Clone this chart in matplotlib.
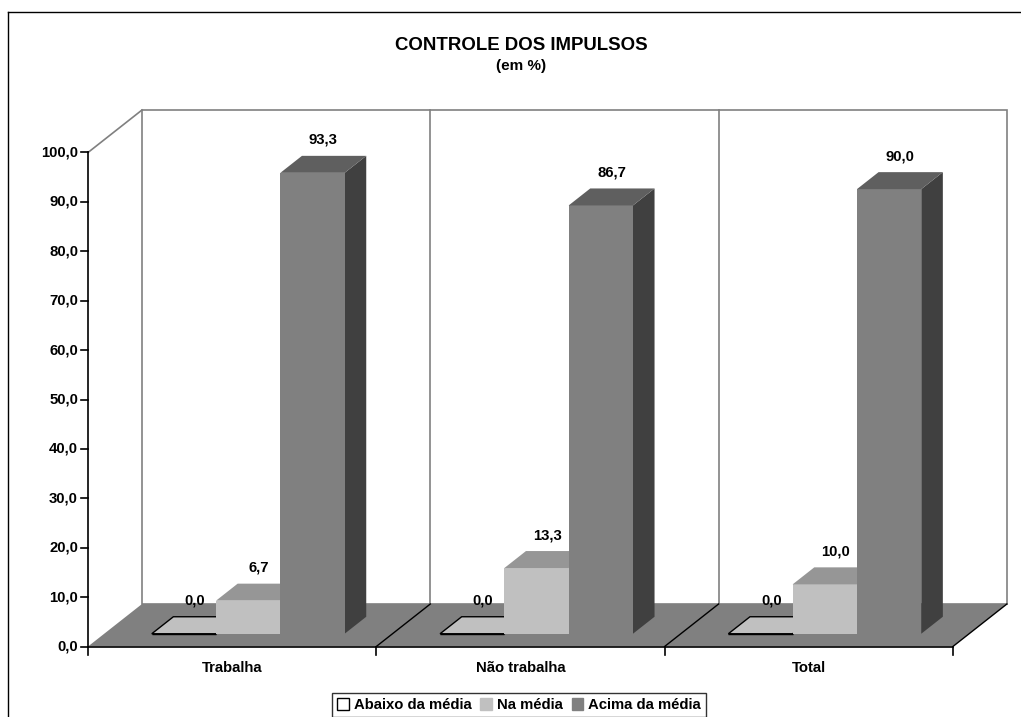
import matplotlib.pyplot as plt
from matplotlib.patches import Polygon, Patch

plt.rcParams['font.family'] = ['Liberation Sans', 'DejaVu Sans']
plt.rcParams['font.weight'] = 'bold'

categories = ['Trabalha', 'Não trabalha', 'Total']
series = ['Abaixo da média', 'Na média', 'Acima da média']
abaixo = [0.0, 0.0, 0.0]
na_media = [6.7, 13.3, 10.0]
acima = [93.3, 86.7, 90.0]
values = [abaixo, na_media, acima]
yticks = [0, 10, 20, 30, 40, 50, 60, 70, 80, 90, 100]

# colours: front, top, side
front_col = ['#ffffff', '#c0c0c0', '#808080']
top_col = ['#c0c0c0', '#969696', '#5f5f5f']
side_col = ['#a0a0a0', '#808080', '#404040']

W, H = 1021, 717
X0, Y0 = 88, 646.5       # front origin of the plot (pixels)
CAT_W = 288.3            # width of one category
S = 4.94                 # pixels per percent
DX, DY = 54, 42.5        # full depth offset
BW = 0.223               # bar width (category units)
GAP = 0.165              # space before first bar
Z0, Z1 = 0.3, 0.7        # bar depth


def proj(x, v, z=0.0):
    return (X0 + x * CAT_W + z * DX, Y0 - v * S - z * DY)


def fmt(v):
    return f"{v:.1f}".replace('.', ',')


fig = plt.figure(figsize=(W / 100, H / 100), dpi=100)
ax = fig.add_axes([0, 0, 1, 1])
ax.set_xlim(0, W)
ax.set_ylim(H, 0)
ax.axis('off')

n = len(categories)
ymax = yticks[-1]

# outer frame (cut at right and bottom)
ax.plot([8, W], [12, 12], color='black', lw=1)
ax.plot([8, 8], [12, H], color='black', lw=1)

# back wall
wall = [proj(0, 0, 1), proj(n, 0, 1), proj(n, ymax, 1), proj(0, ymax, 1)]
ax.add_patch(Polygon(wall, closed=True, facecolor='white', edgecolor='#808080', lw=1.2))
for k in range(1, n):
    a, b = proj(k, 0, 1), proj(k, ymax, 1)
    ax.plot([a[0], b[0]], [a[1], b[1]], color='#808080', lw=1.2)
# left wall top edge
a, b = proj(0, ymax, 0), proj(0, ymax, 1)
ax.plot([a[0], b[0]], [a[1], b[1]], color='#808080', lw=1.2)

# floor
floor = [proj(0, 0, 0), proj(n, 0, 0), proj(n, 0, 1), proj(0, 0, 1)]
ax.add_patch(Polygon(floor, closed=True, facecolor='#808080', edgecolor='none'))
for k in range(1, n + 1):
    a, b = proj(k, 0, 0), proj(k, 0, 1)
    ax.plot([a[0], b[0]], [a[1], b[1]], color='black', lw=1)

# y axis
a, b = proj(0, 0), proj(0, ymax)
ax.plot([a[0], b[0]], [a[1], b[1]], color='black', lw=1.2)
for t in yticks:
    px, py = proj(0, t)
    ax.plot([px - 7, px], [py, py], color='black', lw=1.2)
    ax.text(px - 10, py, fmt(t), ha='right', va='center', fontsize=10.7, fontweight='bold')

# x axis
a, b = proj(0, 0), proj(n, 0)
ax.plot([a[0], b[0]], [a[1], b[1]], color='black', lw=1.2)
for k in range(n + 1):
    px, py = proj(k, 0)
    ax.plot([px, px], [py, py + 8], color='black', lw=1.2)
for k, c in enumerate(categories):
    px, py = proj(k + 0.5, 0)
    ax.text(px, py + 22, c, ha='center', va='center', fontsize=10.7, fontweight='bold')

# bars
for k in range(n):
    for j in range(len(series)):
        v = values[j][k]
        x1 = k + GAP + j * BW
        x2 = x1 + BW
        ec = 'black' if j == 0 else 'none'
        front = [proj(x1, 0, Z0), proj(x2, 0, Z0), proj(x2, v, Z0), proj(x1, v, Z0)]
        top = [proj(x1, v, Z0), proj(x2, v, Z0), proj(x2, v, Z1), proj(x1, v, Z1)]
        side = [proj(x2, 0, Z0), proj(x2, 0, Z1), proj(x2, v, Z1), proj(x2, v, Z0)]
        ax.add_patch(Polygon(side, closed=True, facecolor=side_col[j], edgecolor=ec, lw=1))
        ax.add_patch(Polygon(front, closed=True, facecolor=front_col[j], edgecolor=ec, lw=1))
        ax.add_patch(Polygon(top, closed=True, facecolor=top_col[j], edgecolor=ec, lw=1))

# value labels
for k in range(n):
    for j in range(len(series)):
        v = values[j][k]
        lx, _ = proj(k + GAP + (j + 0.5) * BW, v, 0.5)
        _, ly = proj(0, v, Z1)
        ax.text(lx, ly - 16, fmt(v), ha='center', va='center', fontsize=10.7, fontweight='bold')

# title
ax.text(521, 45, 'CONTROLE DOS IMPULSOS', ha='center', va='center', fontsize=13.4, fontweight='bold')
ax.text(521, 66, '(em %)', ha='center', va='center', fontsize=11, fontweight='bold')

# legend
handles = [Patch(facecolor=front_col[j], edgecolor='black' if j == 0 else front_col[j], lw=1)
           for j in range(len(series))]
leg = ax.legend(handles, series, loc='upper center', bbox_to_anchor=(519 / W, 1 - 693 / H),
                ncol=3, frameon=True, fancybox=False,
                prop={'size': 10.7, 'weight': 'bold'},
                handlelength=0.8, handleheight=0.8, handletextpad=0.3, columnspacing=0.6,
                borderpad=0.35, borderaxespad=0)
leg.get_frame().set_edgecolor('black')
leg.get_frame().set_linewidth(1)

fig.savefig('out.png', dpi=100)
